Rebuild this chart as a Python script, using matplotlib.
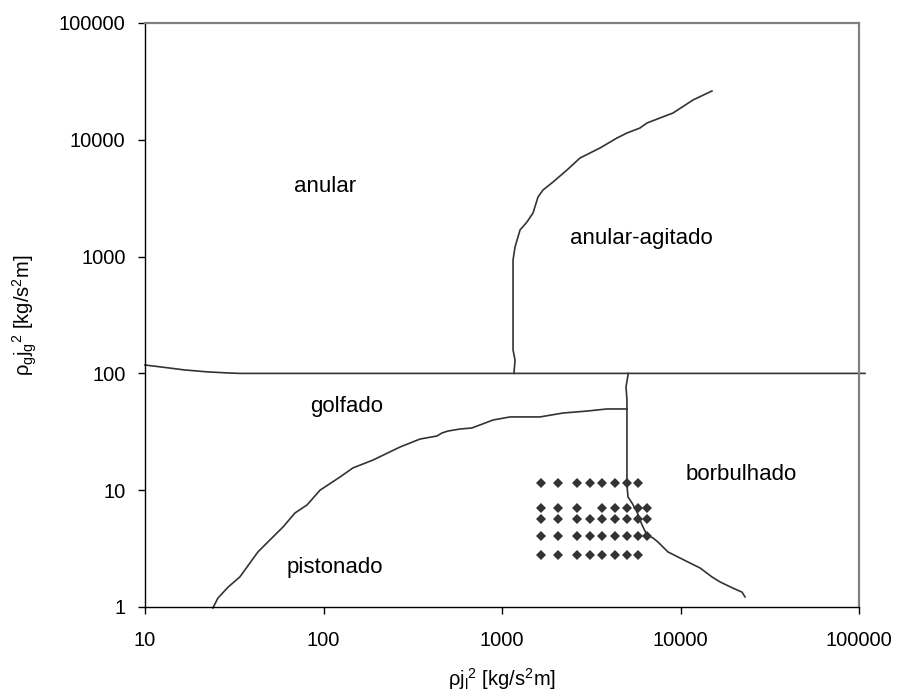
import matplotlib
matplotlib.use("Agg")
import matplotlib.pyplot as plt
from matplotlib.ticker import FixedLocator, NullLocator

plt.rcParams['font.family'] = ['Liberation Sans', 'DejaVu Sans']
plt.rcParams['mathtext.fontset'] = 'custom'
plt.rcParams['mathtext.rm'] = 'Liberation Sans'
plt.rcParams['mathtext.it'] = 'Liberation Sans'

# ---- data ----
x_ticks = [10, 100, 1000, 10000, 100000]
x_tick_labels = ["10", "100", "1000", "10000", "100000"]
y_ticks = [1, 10, 100, 1000, 10000, 100000]
y_tick_labels = ["1", "10", "100", "1000", "10000", "100000"]

# anular / golfado boundary (horizontal at 100, extends past the axis)
b1_x = [10, 12.6, 16.7, 22.5, 28.8, 34, 108000]
b1_y = [118, 113, 107, 103, 101, 100, 100]

# anular / anular-agitado boundary
b2_x = [1167, 1183, 1153, 1153, 1183, 1262, 1380, 1492, 1591, 1697, 1931, 2313,
        2735, 3540, 4407, 5013, 5929, 6491, 7677, 9080, 11750, 15000]
b2_y = [100, 130, 159, 935, 1208, 1690, 1978, 2362, 3238, 3716, 4351, 5515,
        6985, 8510, 10360, 11430, 12620, 13930, 15380, 16960, 21920, 26180]

# golfado / pistonado boundary
b3_x = [24.0, 25.6, 29.2, 34.0, 42.9, 50.1, 59.3, 69.2, 80.8, 95.6, 123.7, 146,
        189, 268, 347, 432, 461, 498, 582, 679, 753, 891, 1110, 1633, 2198,
        2994, 3876, 5013]
b3_y = [0.98, 1.19, 1.48, 1.81, 2.96, 3.75, 4.84, 6.38, 7.47, 10.0, 12.97, 15.5,
        18.1, 23.4, 27.4, 29.1, 30.9, 32.1, 33.4, 34.1, 36.2, 39.9, 42.4, 42.4,
        45.8, 47.6, 49.6, 49.6]

# borbulhado boundary
b4_x = [5080, 5080, 4951, 5013, 5013, 5080, 5350, 5706, 5929, 6166, 6491, 7015,
        7482, 7980, 8512, 9685, 11300, 12860, 15000, 16640, 19680, 22130, 22970]
b4_y = [100, 96.9, 76.5, 59.2, 11.08, 8.74, 7.77, 6.51, 5.56, 4.84, 4.13, 3.90,
        3.60, 3.26, 2.96, 2.68, 2.38, 2.16, 1.81, 1.64, 1.45, 1.34, 1.22]

# experimental points (grid rows)
pt_x_cols = [1650, 2070, 2620, 3100, 3650, 4300, 5000, 5800, 6500]
row_y = [11.5, 7.0, 5.7, 4.05, 2.8]
row_cols = [
    [0, 1, 2, 3, 4, 5, 6, 7],
    [0, 1, 2, 4, 5, 6, 7, 8],
    [0, 1, 2, 3, 4, 5, 6, 7, 8],
    [0, 1, 2, 3, 4, 5, 6, 7, 8],
    [0, 1, 2, 3, 4, 5, 6, 7],
]

region_labels = ["anular", "anular-agitado", "golfado", "pistonado", "borbulhado"]
region_x = [102, 6010, 135, 115, 21800]
region_y = [3950, 1416, 51.6, 2.2, 13.5]

# ---- plot ----
fig = plt.figure(figsize=(9.0, 6.97), dpi=100)
ax = fig.add_axes([145/900, 1-607/697, (859-145)/900, (607-23)/697])
ax.set_xscale('log')
ax.set_yscale('log')
ax.set_xlim(10, 100000)
ax.set_ylim(1, 100000)

lc = '#333333'
ax.plot(b1_x, b1_y, color=lc, lw=1.2, clip_on=False)
ax.plot(b2_x, b2_y, color=lc, lw=1.2)
ax.plot(b3_x, b3_y, color=lc, lw=1.2, clip_on=False)
ax.plot(b4_x, b4_y, color=lc, lw=1.2)

px, py = [], []
for yv, cols in zip(row_y, row_cols):
    for c in cols:
        px.append(pt_x_cols[c])
        py.append(yv)
ax.plot(px, py, linestyle='none', marker='D', markersize=5,
        color='#333333', markeredgewidth=0)

for t, xv, yv in zip(region_labels, region_x, region_y):
    ax.text(xv, yv, t, ha='center', va='center', fontsize=16, color='black')

ax.xaxis.set_major_locator(FixedLocator(x_ticks))
ax.xaxis.set_minor_locator(NullLocator())
ax.set_xticklabels(x_tick_labels)
ax.yaxis.set_major_locator(FixedLocator(y_ticks))
ax.yaxis.set_minor_locator(NullLocator())
ax.set_yticklabels(y_tick_labels)

ax.tick_params(axis='x', direction='out', length=5, width=1, pad=12, labelsize=14.5)
ax.tick_params(axis='y', direction='out', length=5, width=1, pad=9, labelsize=14.5)

for s in ['left', 'bottom']:
    ax.spines[s].set_color('black')
    ax.spines[s].set_linewidth(1.0)
for s in ['top', 'right']:
    ax.spines[s].set_color('#808080')
    ax.spines[s].set_linewidth(1.6)

ax.set_xlabel(r'$\mathrm{\rho j_l}^{2}$ [kg/s$^{2}$m]', fontsize=14.5, labelpad=12)
ax.set_ylabel(r'$\mathrm{\rho_g j_g}^{2}$ [kg/s$^{2}$m]', fontsize=14.5, labelpad=14)

fig.savefig('out.png', dpi=100)
